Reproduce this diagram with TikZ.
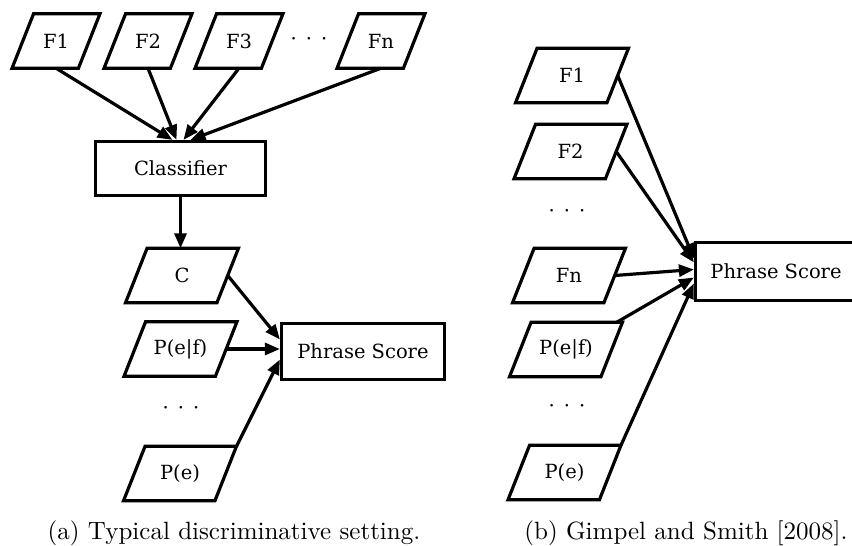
\documentclass[tikz,border=0pt]{standalone}
\usepackage{fontspec}
\newfontfamily\nodefont{DejaVu Serif}
\newfontfamily\capfont{lmroman10-regular.otf}
\usetikzlibrary{arrows.meta}
\begin{document}
\begin{tikzpicture}[x=1pt,y=-1pt,
  lw/.style={line width=3.2pt},
  nfont/.style={font=\nodefont\fontsize{19.5}{22}\selectfont},
  para/.style={nfont, minimum width=91pt, minimum height=54pt, inner sep=0pt},
  parasmall/.style={para, minimum width=66pt},
  boxnode/.style={nfont, draw, lw, minimum height=54pt, inner sep=0pt},
  edge/.style={lw, -{Triangle[length=15pt,width=12pt]}},
  dotsnode/.style={nfont, inner sep=0pt},
  caption/.style={font=\capfont\fontsize{25}{30}\selectfont, anchor=base, inner sep=0pt}]
\useasboundingbox (0,0) rectangle (852,546);

% ---------- (a) ----------
\node[parasmall] (aF1) at (56,41) {F1};
\node[parasmall] (aF2) at (148,41) {F2};
\node[parasmall] (aF3) at (239,41) {F3};
\node[dotsnode] (aD1) at (309,41) {·\hspace{9pt}·\hspace{9pt}·};
\node[parasmall] (aFn) at (381,41) {Fn};
\node[boxnode, minimum width=170pt] (aCl) at (180.5,168.5) {Classifier};
\node[para] (aC) at (182,275.5) {C};
\node[para] (aPef) at (180.5,349) {P(e|f)};
\node[dotsnode] (aD2) at (181,410) {·\hspace{9pt}·\hspace{9pt}·};
\node[para] (aPe) at (180,473.5) {P(e)};
\node[boxnode, minimum width=163pt, minimum height=56pt] (aPS) at (363,351.5) {Phrase Score};

% ---------- (b) ----------
\node[para] (bF1) at (572,75.5) {F1};
\node[para] (bF2) at (570.5,151.5) {F2};
\node[dotsnode] (bD1) at (567,213) {·\hspace{9pt}·\hspace{9pt}·};
\node[para] (bFn) at (569,275.5) {Fn};
\node[para] (bPef) at (566,349.5) {P(e|f)};
\node[dotsnode] (bD2) at (567,408) {·\hspace{9pt}·\hspace{9pt}·};
\node[para] (bPe) at (564.5,472.5) {P(e)};
\node[boxnode, minimum width=163pt, minimum height=58pt] (bPS) at (777,271.5) {\hspace*{-2pt}Phrase Score};

% parallelogram outlines
\foreach \n in {aF1,aF2,aF3,aFn,aC,aPef,aPe,bF1,bF2,bFn,bPef,bPe}
  \draw[lw] ([xshift=-10.75pt]\n.south west) -- ([xshift=-10.75pt]\n.south east)
     -- ([xshift=10.75pt]\n.north east) -- ([xshift=10.75pt]\n.north west) -- cycle;

% edges (a)
\draw[edge] (aF1.south) -- ([xshift=-8pt]aCl.north);
\draw[edge] (aF2.south) -- ([xshift=-4pt]aCl.north);
\draw[edge] (aF3.south) -- ([xshift=3pt]aCl.north);
\draw[edge] (aFn.south) -- ([xshift=10pt]aCl.north);
\draw[edge] (aCl.south) -- (aCl.south |- aC.north);
\draw[edge] (aC.east) -- ([yshift=12pt]aPS.west);
\draw[edge] (aPef.east) -- (aPef.east -| aPS.west);
\draw[edge] ([xshift=10.75pt]aPe.north east) -- ([yshift=-8pt]aPS.west);

% edges (b)
\draw[edge] (bF1.east) -- ([yshift=13pt]bPS.west);
\draw[edge] (bF2.east) -- ([yshift=9pt]bPS.west);
\draw[edge] (bFn.east) -- ([yshift=2pt]bPS.west);
\draw[edge] ([xshift=5pt]bPef.north east) -- ([yshift=-6pt]bPS.west);
\draw[edge] ([xshift=10.75pt]bPe.north east) -- ([yshift=-12pt]bPS.west);

% captions
\node[caption] (capa) at (234,539) {(a) Typical discriminative setting.};
\node[caption] (capb) at (686,539) {(b) Gimpel and Smith [2008].};
\end{tikzpicture}
\end{document}
